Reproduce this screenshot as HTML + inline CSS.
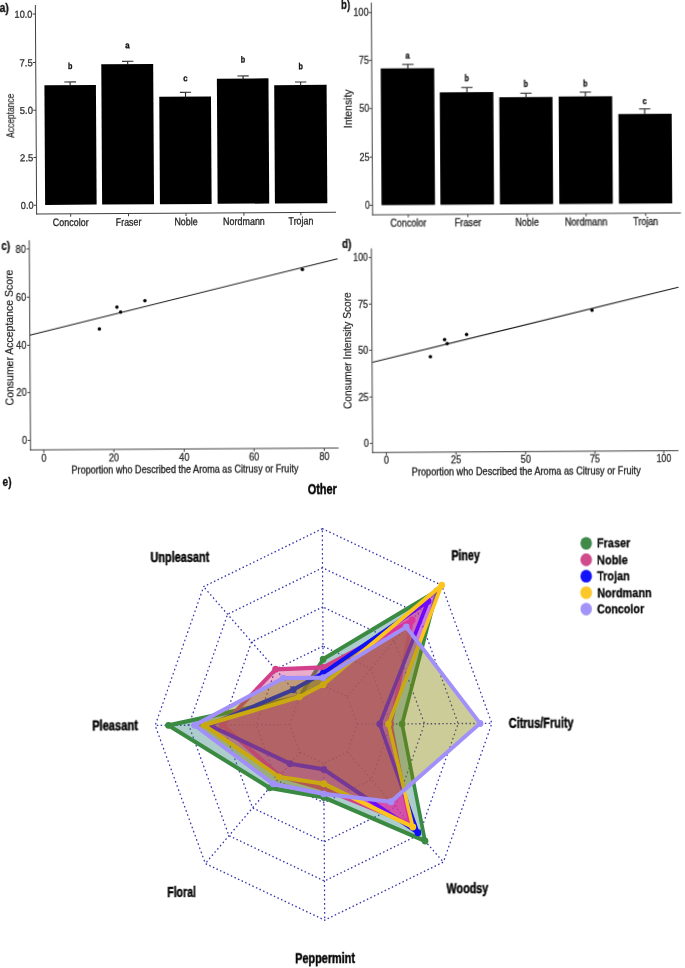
<!DOCTYPE html>
<html><head><meta charset="utf-8"><style>
html,body{margin:0;padding:0;background:#fff;}
body{width:685px;height:968px;overflow:hidden;}
svg{display:block;will-change:transform;font-family:"Liberation Sans",sans-serif;}
</style></head><body>
<svg width="685" height="968" viewBox="0 0 685 968">
<g transform="rotate(-0.35 342.5 484)">
<rect x="-20" y="-20" width="730" height="1010" fill="#fff"/>
<rect x="46.85" y="83.45" width="51.5" height="119.65" fill="#000"/>
<line x1="72.56" y1="80.24" x2="72.56" y2="84.45" stroke="#222" stroke-width="1.1"/>
<line x1="66.76" y1="80.24" x2="78.36" y2="80.24" stroke="#333" stroke-width="1.1"/>
<text x="70.54" y="67.34" font-size="8.8" font-weight="bold" textLength="4.4" lengthAdjust="spacingAndGlyphs" fill="#111" stroke="#111" stroke-width="0.3">b</text>
<rect x="103.84" y="62.8" width="51.9" height="140.3" fill="#000"/>
<line x1="130.29" y1="60" x2="130.29" y2="63.8" stroke="#222" stroke-width="1.1"/>
<line x1="124.59" y1="60" x2="135.99" y2="60" stroke="#333" stroke-width="1.1"/>
<text x="127.97" y="46.99" font-size="8.8" font-weight="bold" textLength="4.4" lengthAdjust="spacingAndGlyphs" fill="#111" stroke="#111" stroke-width="0.3">a</text>
<rect x="161.64" y="95.65" width="51.7" height="107.45" fill="#000"/>
<line x1="187.9" y1="91.35" x2="187.9" y2="96.65" stroke="#222" stroke-width="1.1"/>
<line x1="182.3" y1="91.35" x2="193.5" y2="91.35" stroke="#333" stroke-width="1.1"/>
<text x="185.76" y="80.25" font-size="8.8" font-weight="bold" textLength="4.4" lengthAdjust="spacingAndGlyphs" fill="#111" stroke="#111" stroke-width="0.3">c</text>
<rect x="219.34" y="77.9" width="51.6" height="125.2" fill="#000"/>
<line x1="245.54" y1="75.3" x2="245.54" y2="78.9" stroke="#222" stroke-width="1.1"/>
<line x1="239.89" y1="75.3" x2="251.19" y2="75.3" stroke="#333" stroke-width="1.1"/>
<text x="243.38" y="61.9" font-size="8.8" font-weight="bold" textLength="4.4" lengthAdjust="spacingAndGlyphs" fill="#111" stroke="#111" stroke-width="0.3">b</text>
<rect x="276.64" y="84.75" width="52.4" height="118.35" fill="#000"/>
<line x1="303.11" y1="81.75" x2="303.11" y2="85.75" stroke="#222" stroke-width="1.1"/>
<line x1="297.46" y1="81.75" x2="308.76" y2="81.75" stroke="#333" stroke-width="1.1"/>
<text x="300.93" y="68.95" font-size="8.8" font-weight="bold" textLength="4.4" lengthAdjust="spacingAndGlyphs" fill="#111" stroke="#111" stroke-width="0.3">b</text>
<line x1="38.29" y1="3.14" x2="38.29" y2="212.75" stroke="#404040" stroke-width="1"/>
<line x1="37.79" y1="212.25" x2="337.65" y2="212.25" stroke="#404040" stroke-width="1"/>
<line x1="35.49" y1="12.14" x2="38.29" y2="12.14" stroke="#404040" stroke-width="1"/>
<text x="17.39" y="15.74" font-size="10" textLength="17.9" lengthAdjust="spacingAndGlyphs" fill="#333" stroke="#333" stroke-width="0.3">10.0</text>
<line x1="35.49" y1="60.64" x2="38.29" y2="60.64" stroke="#404040" stroke-width="1"/>
<text x="22.09" y="64.24" font-size="10" textLength="13.2" lengthAdjust="spacingAndGlyphs" fill="#333" stroke="#333" stroke-width="0.3">7.5</text>
<line x1="35.49" y1="108.33" x2="38.29" y2="108.33" stroke="#404040" stroke-width="1"/>
<text x="22.09" y="111.93" font-size="10" textLength="13.2" lengthAdjust="spacingAndGlyphs" fill="#333" stroke="#333" stroke-width="0.3">5.0</text>
<line x1="35.49" y1="155.73" x2="38.29" y2="155.73" stroke="#404040" stroke-width="1"/>
<text x="22.09" y="159.33" font-size="10" textLength="13.2" lengthAdjust="spacingAndGlyphs" fill="#333" stroke="#333" stroke-width="0.3">2.5</text>
<line x1="35.49" y1="203.33" x2="38.29" y2="203.33" stroke="#404040" stroke-width="1"/>
<text x="22.49" y="206.93" font-size="10" textLength="12.8" lengthAdjust="spacingAndGlyphs" fill="#333" stroke="#333" stroke-width="0.3">0.0</text>
<line x1="72.36" y1="212.25" x2="72.36" y2="215.05" stroke="#404040" stroke-width="1"/>
<text x="54.46" y="224.35" font-size="10.8" textLength="35.8" lengthAdjust="spacingAndGlyphs" fill="#1e1e1e" stroke="#1e1e1e" stroke-width="0.3">Concolor</text>
<line x1="130.16" y1="212.25" x2="130.16" y2="215.05" stroke="#404040" stroke-width="1"/>
<text x="117.41" y="224.35" font-size="10.8" textLength="25.5" lengthAdjust="spacingAndGlyphs" fill="#1e1e1e" stroke="#1e1e1e" stroke-width="0.3">Fraser</text>
<line x1="187.66" y1="212.25" x2="187.66" y2="215.05" stroke="#404040" stroke-width="1"/>
<text x="176.01" y="224.35" font-size="10.8" textLength="23.3" lengthAdjust="spacingAndGlyphs" fill="#1e1e1e" stroke="#1e1e1e" stroke-width="0.3">Noble</text>
<line x1="245.56" y1="212.25" x2="245.56" y2="215.05" stroke="#404040" stroke-width="1"/>
<text x="224.71" y="224.35" font-size="10.8" textLength="41.7" lengthAdjust="spacingAndGlyphs" fill="#1e1e1e" stroke="#1e1e1e" stroke-width="0.3">Nordmann</text>
<line x1="302.55" y1="212.25" x2="302.55" y2="215.05" stroke="#404040" stroke-width="1"/>
<text x="290.2" y="224.35" font-size="10.8" textLength="24.7" lengthAdjust="spacingAndGlyphs" fill="#1e1e1e" stroke="#1e1e1e" stroke-width="0.3">Trojan</text>
<text x="16.12" y="135.7" font-size="11" textLength="44.1" lengthAdjust="spacingAndGlyphs" fill="#1e1e1e" stroke="#1e1e1e" stroke-width="0.2" transform="rotate(-90 16.12 135.7)">Acceptance</text>
<rect x="383.24" y="68.71" width="53.5" height="136.69" fill="#000"/>
<line x1="410.46" y1="64.81" x2="410.46" y2="69.71" stroke="#222" stroke-width="1.1"/>
<line x1="404.76" y1="64.81" x2="416.16" y2="64.81" stroke="#333" stroke-width="1.1"/>
<text x="408" y="58.91" font-size="8.8" font-weight="bold" textLength="4.4" lengthAdjust="spacingAndGlyphs" fill="#111" stroke="#111" stroke-width="0.3">a</text>
<rect x="442.14" y="92.97" width="53.6" height="112.43" fill="#000"/>
<line x1="469.32" y1="88.27" x2="469.32" y2="93.97" stroke="#222" stroke-width="1.1"/>
<line x1="463.62" y1="88.27" x2="475.02" y2="88.27" stroke="#333" stroke-width="1.1"/>
<text x="467.06" y="82.27" font-size="8.8" font-weight="bold" textLength="4.4" lengthAdjust="spacingAndGlyphs" fill="#111" stroke="#111" stroke-width="0.3">b</text>
<rect x="501.64" y="98.23" width="53.2" height="107.17" fill="#000"/>
<line x1="528.33" y1="94.33" x2="528.33" y2="99.23" stroke="#222" stroke-width="1.1"/>
<line x1="522.68" y1="94.33" x2="533.98" y2="94.33" stroke="#333" stroke-width="1.1"/>
<text x="526.12" y="88.33" font-size="8.8" font-weight="bold" textLength="4.4" lengthAdjust="spacingAndGlyphs" fill="#111" stroke="#111" stroke-width="0.3">b</text>
<rect x="561.04" y="97.89" width="53.5" height="107.51" fill="#000"/>
<line x1="587.74" y1="93.59" x2="587.74" y2="98.89" stroke="#222" stroke-width="1.1"/>
<line x1="582.09" y1="93.59" x2="593.39" y2="93.59" stroke="#333" stroke-width="1.1"/>
<text x="585.52" y="87.99" font-size="8.8" font-weight="bold" textLength="4.4" lengthAdjust="spacingAndGlyphs" fill="#111" stroke="#111" stroke-width="0.3">b</text>
<rect x="620.64" y="115.76" width="53.3" height="89.64" fill="#000"/>
<line x1="646.94" y1="110.75" x2="646.94" y2="116.76" stroke="#222" stroke-width="1.1"/>
<line x1="641.29" y1="110.75" x2="652.59" y2="110.75" stroke="#333" stroke-width="1.1"/>
<text x="644.82" y="105.75" font-size="8.8" font-weight="bold" textLength="4.4" lengthAdjust="spacingAndGlyphs" fill="#111" stroke="#111" stroke-width="0.3">c</text>
<line x1="374.28" y1="2.79" x2="374.28" y2="215.53" stroke="#404040" stroke-width="1"/>
<line x1="373.78" y1="215.03" x2="682.64" y2="215.03" stroke="#404040" stroke-width="1"/>
<line x1="371.48" y1="12.79" x2="374.28" y2="12.79" stroke="#404040" stroke-width="1"/>
<text x="356.28" y="16.39" font-size="10" textLength="15.2" lengthAdjust="spacingAndGlyphs" fill="#333" stroke="#333" stroke-width="0.3">100</text>
<line x1="371.48" y1="60.59" x2="374.28" y2="60.59" stroke="#404040" stroke-width="1"/>
<text x="361.48" y="64.19" font-size="10" textLength="10" lengthAdjust="spacingAndGlyphs" fill="#333" stroke="#333" stroke-width="0.3">75</text>
<line x1="371.48" y1="108.79" x2="374.28" y2="108.79" stroke="#404040" stroke-width="1"/>
<text x="361.48" y="112.39" font-size="10" textLength="10" lengthAdjust="spacingAndGlyphs" fill="#333" stroke="#333" stroke-width="0.3">50</text>
<line x1="371.48" y1="157.29" x2="374.28" y2="157.29" stroke="#404040" stroke-width="1"/>
<text x="361.48" y="160.89" font-size="10" textLength="10" lengthAdjust="spacingAndGlyphs" fill="#333" stroke="#333" stroke-width="0.3">25</text>
<line x1="371.48" y1="205.49" x2="374.28" y2="205.49" stroke="#404040" stroke-width="1"/>
<text x="366.68" y="209.09" font-size="10" textLength="4.8" lengthAdjust="spacingAndGlyphs" fill="#333" stroke="#333" stroke-width="0.3">0</text>
<line x1="409.95" y1="215.03" x2="409.95" y2="217.83" stroke="#404040" stroke-width="1"/>
<text x="391.9" y="227.03" font-size="10.8" textLength="36.1" lengthAdjust="spacingAndGlyphs" fill="#1e1e1e" stroke="#1e1e1e" stroke-width="0.3">Concolor</text>
<line x1="469.55" y1="215.03" x2="469.55" y2="217.83" stroke="#404040" stroke-width="1"/>
<text x="456.15" y="227.03" font-size="10.8" textLength="26.8" lengthAdjust="spacingAndGlyphs" fill="#1e1e1e" stroke="#1e1e1e" stroke-width="0.3">Fraser</text>
<line x1="528.85" y1="215.03" x2="528.85" y2="217.83" stroke="#404040" stroke-width="1"/>
<text x="517.05" y="227.03" font-size="10.8" textLength="23.6" lengthAdjust="spacingAndGlyphs" fill="#1e1e1e" stroke="#1e1e1e" stroke-width="0.3">Noble</text>
<line x1="587.75" y1="215.03" x2="587.75" y2="217.83" stroke="#404040" stroke-width="1"/>
<text x="566.45" y="227.03" font-size="10.8" textLength="42.6" lengthAdjust="spacingAndGlyphs" fill="#1e1e1e" stroke="#1e1e1e" stroke-width="0.3">Nordmann</text>
<line x1="647.34" y1="215.03" x2="647.34" y2="217.83" stroke="#404040" stroke-width="1"/>
<text x="634.84" y="227.03" font-size="10.8" textLength="25" lengthAdjust="spacingAndGlyphs" fill="#1e1e1e" stroke="#1e1e1e" stroke-width="0.3">Trojan</text>
<text x="353.57" y="128.26" font-size="11" textLength="38.8" lengthAdjust="spacingAndGlyphs" fill="#1e1e1e" stroke="#1e1e1e" stroke-width="0.2" transform="rotate(-90 353.57 128.26)">Intensity</text>
<text x="2.49" y="9.51" font-size="12.5" font-weight="bold" textLength="9.4" lengthAdjust="spacingAndGlyphs" fill="#111" stroke="#111" stroke-width="0.3">a)</text>
<text x="344.1" y="9.2" font-size="12.5" font-weight="bold" textLength="9" lengthAdjust="spacingAndGlyphs" fill="#111" stroke="#111" stroke-width="0.3">b)</text>
<text x="2.63" y="248.12" font-size="12.5" font-weight="bold" textLength="9" lengthAdjust="spacingAndGlyphs" fill="#111" stroke="#111" stroke-width="0.3">c)</text>
<text x="343.44" y="248.4" font-size="12.5" font-weight="bold" textLength="9.4" lengthAdjust="spacingAndGlyphs" fill="#111" stroke="#111" stroke-width="0.3">d)</text>
<text x="2.6" y="483.72" font-size="12.5" font-weight="bold" textLength="9" lengthAdjust="spacingAndGlyphs" fill="#111" stroke="#111" stroke-width="0.3">e)</text>
<line x1="30.76" y1="238.29" x2="30.76" y2="448.53" stroke="#404040" stroke-width="1"/>
<line x1="30.26" y1="448.03" x2="338.71" y2="448.03" stroke="#404040" stroke-width="1"/>
<line x1="27.96" y1="246.99" x2="30.76" y2="246.99" stroke="#404040" stroke-width="1"/>
<text x="17.06" y="250.59" font-size="10" textLength="10.2" lengthAdjust="spacingAndGlyphs" fill="#333" stroke="#333" stroke-width="0.3">80</text>
<line x1="27.96" y1="295.29" x2="30.76" y2="295.29" stroke="#404040" stroke-width="1"/>
<text x="17.06" y="298.89" font-size="10" textLength="10.2" lengthAdjust="spacingAndGlyphs" fill="#333" stroke="#333" stroke-width="0.3">60</text>
<line x1="27.96" y1="343.39" x2="30.76" y2="343.39" stroke="#404040" stroke-width="1"/>
<text x="17.06" y="346.99" font-size="10" textLength="10.2" lengthAdjust="spacingAndGlyphs" fill="#333" stroke="#333" stroke-width="0.3">40</text>
<line x1="27.96" y1="390.69" x2="30.76" y2="390.69" stroke="#404040" stroke-width="1"/>
<text x="17.06" y="394.29" font-size="10" textLength="10.2" lengthAdjust="spacingAndGlyphs" fill="#333" stroke="#333" stroke-width="0.3">20</text>
<line x1="27.96" y1="438.49" x2="30.76" y2="438.49" stroke="#404040" stroke-width="1"/>
<text x="22.16" y="442.09" font-size="10" textLength="5.1" lengthAdjust="spacingAndGlyphs" fill="#333" stroke="#333" stroke-width="0.3">0</text>
<line x1="44.02" y1="448.03" x2="44.02" y2="450.83" stroke="#404040" stroke-width="1"/>
<text x="41.47" y="459.73" font-size="10" textLength="5.1" lengthAdjust="spacingAndGlyphs" fill="#333" stroke="#333" stroke-width="0.3">0</text>
<line x1="114.12" y1="448.03" x2="114.12" y2="450.83" stroke="#404040" stroke-width="1"/>
<text x="109.02" y="459.73" font-size="10" textLength="10.2" lengthAdjust="spacingAndGlyphs" fill="#333" stroke="#333" stroke-width="0.3">20</text>
<line x1="184.42" y1="448.03" x2="184.42" y2="450.83" stroke="#404040" stroke-width="1"/>
<text x="179.32" y="459.73" font-size="10" textLength="10.2" lengthAdjust="spacingAndGlyphs" fill="#333" stroke="#333" stroke-width="0.3">40</text>
<line x1="254.32" y1="448.03" x2="254.32" y2="450.83" stroke="#404040" stroke-width="1"/>
<text x="249.22" y="459.73" font-size="10" textLength="10.2" lengthAdjust="spacingAndGlyphs" fill="#333" stroke="#333" stroke-width="0.3">60</text>
<line x1="324.51" y1="448.03" x2="324.51" y2="450.83" stroke="#404040" stroke-width="1"/>
<text x="319.41" y="459.73" font-size="10" textLength="10.2" lengthAdjust="spacingAndGlyphs" fill="#333" stroke="#333" stroke-width="0.3">80</text>
<text x="71.57" y="471.74" font-size="10.2" textLength="226.9" lengthAdjust="spacingAndGlyphs" fill="#1e1e1e" stroke="#1e1e1e" stroke-width="0.3">Proportion who Described the Aroma as Citrusy or Fruity</text>
<text x="14.29" y="403.39" font-size="11" textLength="135.7" lengthAdjust="spacingAndGlyphs" fill="#1e1e1e" stroke="#1e1e1e" stroke-width="0.2" transform="rotate(-90 14.29 403.39)">Consumer Acceptance Score</text>
<line x1="30.91" y1="333.29" x2="338.98" y2="258.67" stroke="#1a1a1a" stroke-width="1.1"/>
<circle cx="100.35" cy="327.52" r="1.75" fill="#000"/>
<circle cx="117.98" cy="305.83" r="1.75" fill="#000"/>
<circle cx="121.65" cy="310.85" r="1.75" fill="#000"/>
<circle cx="146.02" cy="299.4" r="1.75" fill="#000"/>
<circle cx="303.71" cy="269.16" r="1.75" fill="#000"/>
<line x1="372.82" y1="248.58" x2="372.82" y2="453.22" stroke="#404040" stroke-width="1"/>
<line x1="372.32" y1="452.72" x2="678.69" y2="452.72" stroke="#404040" stroke-width="1"/>
<line x1="370.02" y1="257.68" x2="372.82" y2="257.68" stroke="#404040" stroke-width="1"/>
<text x="354.62" y="261.28" font-size="10" textLength="14.6" lengthAdjust="spacingAndGlyphs" fill="#333" stroke="#333" stroke-width="0.3">100</text>
<line x1="370.02" y1="304.28" x2="372.82" y2="304.28" stroke="#404040" stroke-width="1"/>
<text x="359.02" y="307.88" font-size="10" textLength="10.2" lengthAdjust="spacingAndGlyphs" fill="#333" stroke="#333" stroke-width="0.3">75</text>
<line x1="370.02" y1="350.38" x2="372.82" y2="350.38" stroke="#404040" stroke-width="1"/>
<text x="359.02" y="353.98" font-size="10" textLength="10.2" lengthAdjust="spacingAndGlyphs" fill="#333" stroke="#333" stroke-width="0.3">50</text>
<line x1="370.02" y1="397.18" x2="372.82" y2="397.18" stroke="#404040" stroke-width="1"/>
<text x="359.02" y="400.78" font-size="10" textLength="10.2" lengthAdjust="spacingAndGlyphs" fill="#333" stroke="#333" stroke-width="0.3">25</text>
<line x1="370.02" y1="443.58" x2="372.82" y2="443.58" stroke="#404040" stroke-width="1"/>
<text x="364.12" y="447.18" font-size="10" textLength="5.1" lengthAdjust="spacingAndGlyphs" fill="#333" stroke="#333" stroke-width="0.3">0</text>
<line x1="386.6" y1="452.72" x2="386.6" y2="455.52" stroke="#404040" stroke-width="1"/>
<text x="384.05" y="464.32" font-size="10" textLength="5.1" lengthAdjust="spacingAndGlyphs" fill="#333" stroke="#333" stroke-width="0.3">0</text>
<line x1="456.2" y1="452.72" x2="456.2" y2="455.52" stroke="#404040" stroke-width="1"/>
<text x="451.1" y="464.32" font-size="10" textLength="10.2" lengthAdjust="spacingAndGlyphs" fill="#333" stroke="#333" stroke-width="0.3">25</text>
<line x1="525.89" y1="452.72" x2="525.89" y2="455.52" stroke="#404040" stroke-width="1"/>
<text x="520.79" y="464.32" font-size="10" textLength="10.2" lengthAdjust="spacingAndGlyphs" fill="#333" stroke="#333" stroke-width="0.3">50</text>
<line x1="595.09" y1="452.72" x2="595.09" y2="455.52" stroke="#404040" stroke-width="1"/>
<text x="589.99" y="464.32" font-size="10" textLength="10.2" lengthAdjust="spacingAndGlyphs" fill="#333" stroke="#333" stroke-width="0.3">75</text>
<line x1="663.99" y1="452.72" x2="663.99" y2="455.52" stroke="#404040" stroke-width="1"/>
<text x="656.69" y="464.32" font-size="10" textLength="14.6" lengthAdjust="spacingAndGlyphs" fill="#333" stroke="#333" stroke-width="0.3">100</text>
<text x="411.85" y="475.72" font-size="10.2" textLength="228.9" lengthAdjust="spacingAndGlyphs" fill="#1e1e1e" stroke="#1e1e1e" stroke-width="0.3">Proportion who Described the Aroma as Citrusy or Fruity</text>
<text x="352.06" y="409.06" font-size="11" textLength="116.8" lengthAdjust="spacingAndGlyphs" fill="#1e1e1e" stroke="#1e1e1e" stroke-width="0.2" transform="rotate(-90 352.06 409.06)">Consumer Intensity Score</text>
<line x1="373.24" y1="362.49" x2="679.7" y2="289.26" stroke="#1a1a1a" stroke-width="1.1"/>
<circle cx="431.18" cy="357.14" r="1.75" fill="#000"/>
<circle cx="445.48" cy="340.13" r="1.75" fill="#000"/>
<circle cx="448.06" cy="344.14" r="1.75" fill="#000"/>
<circle cx="467.51" cy="335.26" r="1.75" fill="#000"/>
<circle cx="593.06" cy="311.73" r="1.75" fill="#000"/>
<g transform="translate(322.03 724.28) scale(0.86 1)">
<g stroke="#3434ac" stroke-width="1.4" stroke-dasharray="1.7 2.8" vector-effect="non-scaling-stroke"><polygon points="0,-39.15 -27.68,-27.68 -39.15,-0 -27.68,27.68 -0,39.15 27.68,27.68 39.15,0 27.68,-27.68" fill="none"/><polygon points="0,-78.3 -55.37,-55.37 -78.3,-0 -55.37,55.37 -0,78.3 55.37,55.37 78.3,0 55.37,-55.37" fill="none"/><polygon points="0,-117.45 -83.05,-83.05 -117.45,-0 -83.05,83.05 -0,117.45 83.05,83.05 117.45,0 83.05,-83.05" fill="none"/><polygon points="0,-156.6 -110.73,-110.73 -156.6,-0 -110.73,110.73 -0,156.6 110.73,110.73 156.6,0 110.73,-110.73" fill="none"/><polygon points="0,-195.75 -138.42,-138.42 -195.75,-0 -138.42,138.42 -0,195.75 138.42,138.42 195.75,0 138.42,-138.42" fill="none"/><line x1="0" y1="-39.15" x2="0" y2="-195.75"/><line x1="-27.68" y1="-27.68" x2="-138.42" y2="-138.42"/><line x1="-39.15" y1="-0" x2="-195.75" y2="-0"/><line x1="-27.68" y1="27.68" x2="-138.42" y2="138.42"/><line x1="-0" y1="39.15" x2="-0" y2="195.75"/><line x1="27.68" y1="27.68" x2="138.42" y2="138.42"/><line x1="39.15" y1="0" x2="195.75" y2="0"/><line x1="27.68" y1="-27.68" x2="138.42" y2="-138.42"/></g>
<polygon points="0,-65.18 -27.68,-27.68 -180.29,-0 -63.12,63.12 -0,73.01 117.24,117.24 91.42,0 132.88,-132.88" fill="rgba(51,128,128,0.4)" stroke="#3b8a42" stroke-width="4.2" stroke-linejoin="round"/>
<ellipse cx="0" cy="-65.18" rx="3.9" ry="3.45" fill="#3b8a42"/>
<ellipse cx="-27.68" cy="-27.68" rx="3.9" ry="3.45" fill="#3b8a42"/>
<ellipse cx="-180.29" cy="-0" rx="3.9" ry="3.45" fill="#3b8a42"/>
<ellipse cx="-63.12" cy="63.12" rx="3.9" ry="3.45" fill="#3b8a42"/>
<ellipse cx="-0" cy="73.01" rx="3.9" ry="3.45" fill="#3b8a42"/>
<ellipse cx="117.24" cy="117.24" rx="3.9" ry="3.45" fill="#3b8a42"/>
<ellipse cx="91.42" cy="0" rx="3.9" ry="3.45" fill="#3b8a42"/>
<ellipse cx="132.88" cy="-132.88" rx="3.9" ry="3.45" fill="#3b8a42"/>
<polygon points="0,-56.96 -55.37,-55.37 -117.45,-0 -51.21,51.21 -0,64.6 99.66,99.66 78.3,0 103.81,-103.81" fill="rgba(204,51,128,0.4)" stroke="#d23f8a" stroke-width="4.2" stroke-linejoin="round"/>
<ellipse cx="0" cy="-56.96" rx="3.9" ry="3.45" fill="#d23f8a"/>
<ellipse cx="-55.37" cy="-55.37" rx="3.9" ry="3.45" fill="#d23f8a"/>
<ellipse cx="-117.45" cy="-0" rx="3.9" ry="3.45" fill="#d23f8a"/>
<ellipse cx="-51.21" cy="51.21" rx="3.9" ry="3.45" fill="#d23f8a"/>
<ellipse cx="-0" cy="64.6" rx="3.9" ry="3.45" fill="#d23f8a"/>
<ellipse cx="99.66" cy="99.66" rx="3.9" ry="3.45" fill="#d23f8a"/>
<ellipse cx="78.3" cy="0" rx="3.9" ry="3.45" fill="#d23f8a"/>
<ellipse cx="103.81" cy="-103.81" rx="3.9" ry="3.45" fill="#d23f8a"/>
<polygon points="0,-51.29 -34.88,-34.88 -132.91,-0 -39.17,39.17 -0,45.02 108.93,108.93 65.38,0 122.5,-122.5" fill="rgba(178,128,26,0.4)" stroke="#1010f5" stroke-width="4.2" stroke-linejoin="round"/>
<ellipse cx="0" cy="-51.29" rx="3.9" ry="3.45" fill="#1010f5"/>
<ellipse cx="-34.88" cy="-34.88" rx="3.9" ry="3.45" fill="#1010f5"/>
<ellipse cx="-132.91" cy="-0" rx="3.9" ry="3.45" fill="#1010f5"/>
<ellipse cx="-39.17" cy="39.17" rx="3.9" ry="3.45" fill="#1010f5"/>
<ellipse cx="-0" cy="45.02" rx="3.9" ry="3.45" fill="#1010f5"/>
<ellipse cx="108.93" cy="108.93" rx="3.9" ry="3.45" fill="#1010f5"/>
<ellipse cx="65.38" cy="0" rx="3.9" ry="3.45" fill="#1010f5"/>
<ellipse cx="122.5" cy="-122.5" rx="3.9" ry="3.45" fill="#1010f5"/>
<polygon points="0,-39.74 -27.68,-27.68 -138.98,-0 -52.18,52.18 -0,59.31 103.12,103.12 75.56,0 138.42,-138.42" fill="rgba(255,0,255,0.4)" stroke="#fcc41c" stroke-width="4.2" stroke-linejoin="round"/>
<ellipse cx="0" cy="-39.74" rx="3.9" ry="3.45" fill="#fcc41c"/>
<ellipse cx="-27.68" cy="-27.68" rx="3.9" ry="3.45" fill="#fcc41c"/>
<ellipse cx="-138.98" cy="-0" rx="3.9" ry="3.45" fill="#fcc41c"/>
<ellipse cx="-52.18" cy="52.18" rx="3.9" ry="3.45" fill="#fcc41c"/>
<ellipse cx="-0" cy="59.31" rx="3.9" ry="3.45" fill="#fcc41c"/>
<ellipse cx="103.12" cy="103.12" rx="3.9" ry="3.45" fill="#fcc41c"/>
<ellipse cx="75.56" cy="0" rx="3.9" ry="3.45" fill="#fcc41c"/>
<ellipse cx="138.42" cy="-138.42" rx="3.9" ry="3.45" fill="#fcc41c"/>
<polygon points="0,-46.78 -46.51,-46.51 -149.75,-0 -59.1,59.1 -0,69.49 77.79,77.79 182.05,0 96.89,-96.89" fill="rgba(128,128,0,0.4)" stroke="#a190fa" stroke-width="4.2" stroke-linejoin="round"/>
<ellipse cx="0" cy="-46.78" rx="3.9" ry="3.45" fill="#a190fa"/>
<ellipse cx="-46.51" cy="-46.51" rx="3.9" ry="3.45" fill="#a190fa"/>
<ellipse cx="-149.75" cy="-0" rx="3.9" ry="3.45" fill="#a190fa"/>
<ellipse cx="-59.1" cy="59.1" rx="3.9" ry="3.45" fill="#a190fa"/>
<ellipse cx="-0" cy="69.49" rx="3.9" ry="3.45" fill="#a190fa"/>
<ellipse cx="77.79" cy="77.79" rx="3.9" ry="3.45" fill="#a190fa"/>
<ellipse cx="182.05" cy="0" rx="3.9" ry="3.45" fill="#a190fa"/>
<ellipse cx="96.89" cy="-96.89" rx="3.9" ry="3.45" fill="#a190fa"/>
</g>
<text x="307.64" y="493.59" font-size="14.3" font-weight="bold" textLength="29.2" lengthAdjust="spacingAndGlyphs" fill="#000" stroke="#000" stroke-width="0.45">Other</text>
<text x="150.02" y="561.43" font-size="14.3" font-weight="bold" textLength="58.8" lengthAdjust="spacingAndGlyphs" fill="#000" stroke="#000" stroke-width="0.45">Unpleasant</text>
<text x="450.93" y="561.06" font-size="14.3" font-weight="bold" textLength="28.5" lengthAdjust="spacingAndGlyphs" fill="#000" stroke="#000" stroke-width="0.45">Piney</text>
<text x="90.7" y="728.87" font-size="14.3" font-weight="bold" textLength="45.7" lengthAdjust="spacingAndGlyphs" fill="#000" stroke="#000" stroke-width="0.45">Pleasant</text>
<text x="507.31" y="728.81" font-size="14.3" font-weight="bold" textLength="64.9" lengthAdjust="spacingAndGlyphs" fill="#000" stroke="#000" stroke-width="0.45">Citrus/Fruity</text>
<text x="164.68" y="895.52" font-size="14.3" font-weight="bold" textLength="28.8" lengthAdjust="spacingAndGlyphs" fill="#000" stroke="#000" stroke-width="0.45">Floral</text>
<text x="444.1" y="894.03" font-size="14.3" font-weight="bold" textLength="41.7" lengthAdjust="spacingAndGlyphs" fill="#000" stroke="#000" stroke-width="0.45">Woodsy</text>
<text x="292.27" y="962.7" font-size="14.3" font-weight="bold" textLength="59.8" lengthAdjust="spacingAndGlyphs" fill="#000" stroke="#000" stroke-width="0.45">Peppermint</text>
<ellipse cx="585.83" cy="544.79" rx="5.8" ry="6.4" fill="#3f8a48"/>
<text x="596.71" y="549.35" font-size="13.3" font-weight="bold" textLength="33.3" lengthAdjust="spacingAndGlyphs" fill="#000" stroke="#000" stroke-width="0.3">Fraser</text>
<ellipse cx="585.73" cy="561.24" rx="5.8" ry="6.4" fill="#d04b8c"/>
<text x="596.61" y="565.8" font-size="13.3" font-weight="bold" textLength="30.7" lengthAdjust="spacingAndGlyphs" fill="#000" stroke="#000" stroke-width="0.3">Noble</text>
<ellipse cx="585.63" cy="577.69" rx="5.8" ry="6.4" fill="#1414fa"/>
<text x="596.5" y="582.25" font-size="13.3" font-weight="bold" textLength="32.7" lengthAdjust="spacingAndGlyphs" fill="#000" stroke="#000" stroke-width="0.3">Trojan</text>
<ellipse cx="585.53" cy="594.14" rx="5.8" ry="6.4" fill="#fcc72a"/>
<text x="596.4" y="598.7" font-size="13.3" font-weight="bold" textLength="54.6" lengthAdjust="spacingAndGlyphs" fill="#000" stroke="#000" stroke-width="0.3">Nordmann</text>
<ellipse cx="585.43" cy="610.59" rx="5.8" ry="6.4" fill="#a293f8"/>
<text x="596.3" y="615.15" font-size="13.3" font-weight="bold" textLength="47" lengthAdjust="spacingAndGlyphs" fill="#000" stroke="#000" stroke-width="0.3">Concolor</text>
</g>
</svg>
</body></html>
